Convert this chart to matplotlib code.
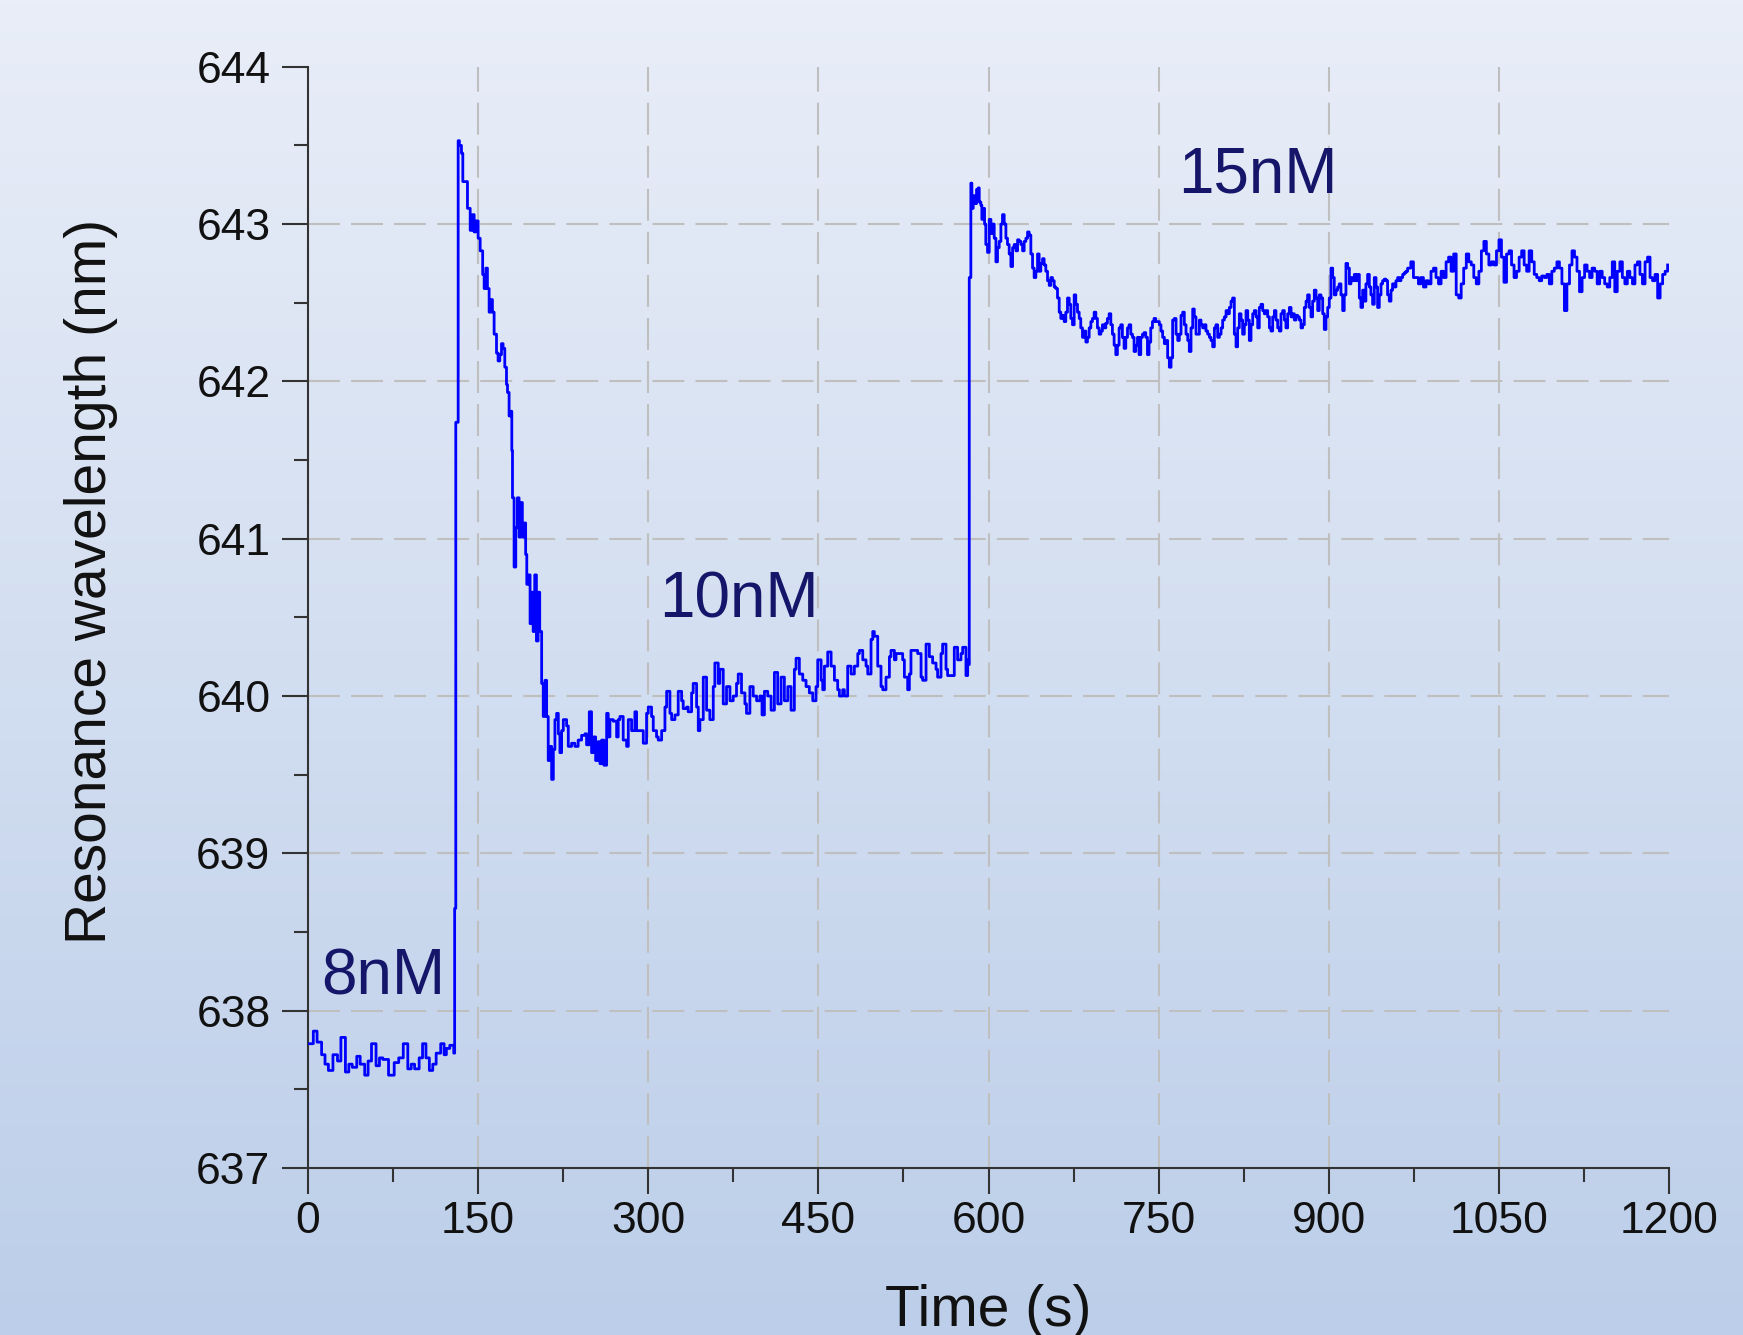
import numpy as np
import matplotlib
matplotlib.use("Agg")
import matplotlib.pyplot as plt
from matplotlib import font_manager

# ---------------- data ----------------
x_ticks = [0, 150, 300, 450, 600, 750, 900, 1050, 1200]
y_ticks = [637, 638, 639, 640, 641, 642, 643, 644]

# 8 nM baseline
time_8nM = [0, 4.7, 8, 12, 15, 18, 22, 26, 29, 33, 36, 39, 43, 46, 50, 53, 56, 60, 63, 66,
            71, 76, 80, 84, 88, 91, 94, 98, 101, 104, 107, 110, 113, 117, 120, 122, 125, 128.5]
wl_8nM = [637.79, 637.87, 637.80, 637.72, 637.66, 637.62, 637.72, 637.68, 637.83, 637.61,
          637.66, 637.64, 637.71, 637.66, 637.59, 637.68, 637.79, 637.65, 637.70, 637.69,
          637.59, 637.67, 637.70, 637.79, 637.63, 637.66, 637.63, 637.70, 637.79, 637.70,
          637.62, 637.66, 637.73, 637.79, 637.72, 637.76, 637.78, 637.73]

# injection of 10 nM: jump and decay
time_10nM_decay = [129.3, 130.3, 132.4, 133.5, 135.3, 136.5, 138, 140.6, 143, 145, 146.5, 148,
                   150, 151.8, 154, 155.3, 156.8, 158.2, 159.7, 161.2, 162.6, 164.1, 166.2,
                   167.6, 169.1, 170.6, 172, 173.5, 175, 175.9, 177.3, 178.8, 179.7, 180.3,
                   181.7, 183.2, 184.6, 186.1, 187.6, 189, 190.5, 191.9, 192.9, 194.4, 195.8,
                   197, 198.5, 199.9, 201.4, 202.9, 204.3, 206, 207.4, 208.9, 210.4, 211.8,
                   213.3, 214.8, 216.3, 217.7, 219.2, 220.7, 222.1, 223.6, 225.1, 228, 229.5,
                   232.4, 235.3, 238.2]
wl_10nM_decay = [638.65, 641.74, 643.53, 643.50, 643.45, 643.27, 643.27, 643.10, 642.96, 643.06,
                 642.95, 643.02, 642.91, 642.83, 642.68, 642.59, 642.72, 642.59, 642.44, 642.52,
                 642.44, 642.30, 642.18, 642.13, 642.17, 642.24, 642.21, 642.09, 641.98, 641.93,
                 641.78, 641.81, 641.56, 641.26, 640.82, 641.07, 641.26, 641.01, 641.23, 641.01,
                 641.10, 640.90, 640.71, 640.77, 640.46, 640.66, 640.41, 640.77, 640.35, 640.66,
                 640.41, 640.08, 639.87, 640.10, 639.87, 639.59, 639.68, 639.47, 639.66, 639.85,
                 639.89, 639.76, 639.64, 639.78, 639.85, 639.81, 639.68, 639.70, 639.68, 639.72]

# 10 nM association
time_10nM = [241.2, 244.2, 245.6, 248, 250, 251.5, 253.6, 255.9, 257.4, 258.9, 260.9, 263.3,
             264.7, 266.2, 269.1, 272.1, 273.5, 275, 277.9, 280.9, 282.4, 285.3, 288.2, 289.7,
             292.6, 295.6, 298.5, 300, 302.9, 304.4, 307.3, 308.8, 311.8, 314.7, 316.2, 319.1,
             320.6, 323.5, 326.4, 329.4, 330.8, 333.8, 335.2, 338.2, 339.6, 342.6, 344.1, 345.5,
             348.5, 351.4, 354.3, 357.3, 358.7, 361.7, 363.1, 366.1, 369, 372, 374.9, 377.8,
             379.3, 382.2, 385.2, 386.6, 389.6, 392.5, 395.5, 398.4, 400.3, 402.4, 405.3, 408.3,
             411.2, 414.1, 417.1, 420, 423, 425.9, 428.8, 430.3, 433.2, 436.2, 439.1, 442, 445,
             447.9, 449.4, 452.4, 453.8, 455.3, 458.2, 461.2, 464.1, 467, 468.5, 471.4, 472.9,
             475.8, 478.8, 481.7, 484.7, 486.1, 489.1, 492, 493.5, 496.4, 497.9, 499.3, 502.3,
             505.2, 506.7, 509.6, 512.6, 514, 517, 518.4, 521.4, 524.3, 525.8, 528.7, 530.2,
             531.6, 534.6, 537.5, 540.5, 541.9, 544.9, 547.8, 550.7, 553.7, 555.1, 558.1, 559.5,
             562.5, 563.9, 566.9, 569.8, 572.7, 575.7, 577.2, 580.1, 581.6, 582.5]
wl_10nM = [639.75, 639.76, 639.69, 639.90, 639.64, 639.74, 639.59, 639.71, 639.57, 639.72,
           639.56, 639.89, 639.74, 639.85, 639.84, 639.74, 639.85, 639.87, 639.72, 639.68,
           639.85, 639.78, 639.90, 639.78, 639.78, 639.70, 639.89, 639.93, 639.87, 639.78,
           639.74, 639.72, 639.78, 639.93, 640.03, 639.89, 639.85, 639.88, 640.03, 639.97,
           639.92, 639.93, 639.90, 640.02, 640.08, 639.93, 639.78, 639.85, 640.12, 639.91,
           639.85, 640.06, 640.21, 640.08, 640.17, 639.95, 640.06, 639.97, 640.00, 640.08,
           640.14, 640.02, 639.95, 639.89, 640.06, 640.00, 639.97, 640.00, 639.88, 640.03,
           640.00, 639.91, 640.15, 639.95, 640.12, 639.97, 640.06, 639.91, 640.17, 640.24,
           640.14, 640.10, 640.06, 640.02, 639.97, 640.06, 640.23, 640.10, 640.04, 640.19,
           640.28, 640.19, 640.10, 640.04, 640.00, 640.04, 640.00, 640.19, 640.14, 640.19,
           640.27, 640.29, 640.23, 640.19, 640.14, 640.36, 640.41, 640.38, 640.19, 640.06,
           640.04, 640.12, 640.25, 640.29, 640.23, 640.27, 640.27, 640.23, 640.12, 640.04,
           640.14, 640.29, 640.29, 640.27, 640.12, 640.10, 640.33, 640.25, 640.21, 640.17,
           640.12, 640.27, 640.33, 640.17, 640.13, 640.13, 640.31, 640.23, 640.27, 640.31,
           640.13, 640.23, 640.20]

# injection of 15 nM: jump and decay
time_15nM_decay = [583, 584.4, 585.3, 586.5, 588, 589.4, 590.9, 591.8, 593.2, 594.1, 595.3,
                   596.5, 597.6, 599.1, 600.6, 602.1, 603.5, 605, 606.5, 607.9, 609.4, 610.9,
                   612.3, 613.8, 615.3, 616.7, 618.2, 619.7, 621.2, 622.6, 624.1, 625.6, 627,
                   628.5, 630, 631.4, 632.9, 634.4, 635.8, 637.3, 638.8, 640.2, 641.7, 643.2,
                   644.6, 646.1, 647.6, 649, 650.5, 652, 653.5, 654.9, 656.4, 657.9, 659.3,
                   660.8, 662.3, 663.7, 665.2, 666.7, 668.1, 669.6, 671.1, 672.5, 674, 675.5,
                   676.9, 678.4, 679.9, 681.3, 682.8, 684.3, 685.8, 687.2, 688.7, 690.2, 691.6,
                   693.1, 694.6, 696, 697.5, 699, 700.4, 701.9, 703.4, 704.8, 706.3, 707.8,
                   709.2, 710.7, 712.2, 713.6, 715.1, 716.6, 718, 719.5, 721, 722.5, 723.9,
                   725.4, 726.9, 728.3, 729.8, 731.3, 732.7, 734.2, 735.7, 737.1, 738.6, 740.1,
                   741.5, 743, 744.5, 745.9, 747.4]
wl_15nM_decay = [642.66, 643.26, 643.10, 643.18, 643.13, 643.22, 643.23, 643.14, 643.12, 643.03,
                 643.10, 643.00, 642.87, 642.82, 643.03, 642.94, 643.00, 642.91, 642.76, 642.85,
                 642.89, 643.00, 643.06, 643.00, 642.91, 642.87, 642.81, 642.73, 642.85, 642.87,
                 642.83, 642.90, 642.89, 642.87, 642.83, 642.89, 642.91, 642.95, 642.93, 642.81,
                 642.72, 642.66, 642.70, 642.81, 642.70, 642.75, 642.78, 642.74, 642.70, 642.64,
                 642.61, 642.66, 642.64, 642.60, 642.59, 642.53, 642.44, 642.40, 642.42, 642.38,
                 642.44, 642.53, 642.49, 642.40, 642.36, 642.55, 642.49, 642.44, 642.40, 642.34,
                 642.28, 642.32, 642.25, 642.28, 642.34, 642.38, 642.40, 642.44, 642.40, 642.34,
                 642.30, 642.32, 642.36, 642.34, 642.37, 642.40, 642.43, 642.36, 642.30, 642.23,
                 642.17, 642.23, 642.34, 642.36, 642.28, 642.21, 642.28, 642.34, 642.36, 642.30,
                 642.28, 642.19, 642.23, 642.28, 642.17, 642.28, 642.30, 642.31, 642.28, 642.17,
                 642.25, 642.34, 642.38, 642.40, 642.38]

# 15 nM association
time_15nM = [750.6, 752, 753.5, 755, 756.5, 757.9, 759.4, 760.9, 762.3, 763.8, 765.3, 766.8,
             768.2, 769.7, 771.2, 772.6, 774.1, 775.6, 777, 778.5, 780, 781.4, 782.9, 784.4,
             785.9, 787.3, 788.8, 790.3, 791.7, 793.2, 794.7, 796.1, 797.6, 799.1, 800.5, 802,
             803.5, 805, 806.4, 807.9, 809.4, 810.8, 812.3, 813.8, 815.2, 816.7, 818.2, 819.6,
             821.1, 822.6, 824, 825.5, 827, 828.5, 829.9, 831.4, 832.9, 834.3, 835.8, 837.3,
             838.7, 840.2, 841.7, 843.1, 844.6, 846.1, 847.6, 849, 850.5, 852, 853.4, 854.9,
             856.4, 857.8, 859.3, 860.8, 862.2, 863.7, 865.2, 866.7, 868.1, 869.6, 871.1, 872.5,
             874, 875.5, 876.9, 878.4, 879.9, 881.3, 882.8, 884.3, 885.7, 887.2, 888.7, 890.2,
             891.6, 893.1, 894.6, 896, 897.5, 899, 900.4, 901.9, 903.4, 904.8, 906.3, 907.8,
             909.2, 910.7, 912.2, 913.6, 915.1, 916.6, 918.1, 919.5, 921, 922.5, 923.9, 925.4,
             926.9, 928.3, 929.8, 931.3, 932.7, 934.2, 935.7, 937.1, 938.6, 940.1, 941.6, 943,
             944.5, 946, 947.4, 948.9, 950.4, 951.8, 953.3, 954.8, 956.2, 957.7, 959.2, 960.7,
             962.1, 963.6, 965.1, 966.5, 968, 969.5, 972.3, 974.6, 976.8, 979, 981.2, 983.4,
             985.7, 987.9, 990.1, 992.3, 994.5, 996.7, 999, 1001.2, 1003.4, 1005.6, 1007.8,
             1010.1, 1012.3, 1014.5, 1016.7, 1018.9, 1021.2, 1023.4, 1025.6, 1027.8, 1030,
             1032.3, 1034.5, 1036.7, 1038.9, 1041.1, 1043.4, 1045.6, 1047.8, 1050, 1052.2,
             1054.4, 1056.7, 1058.9, 1061.1, 1063.3, 1065.5, 1067.8, 1070, 1072.2, 1074.4,
             1076.6, 1078.9, 1081.1, 1083.3, 1085.5, 1087.7, 1090, 1092.2, 1094.4, 1096.6,
             1098.8, 1101.1, 1103.3, 1105.5, 1107.7, 1109.9, 1112.2, 1114.4, 1116.6, 1118.8,
             1121, 1123.3, 1125.5, 1127.7, 1129.9, 1132.1, 1134.4, 1136.6, 1138.8, 1141,
             1143.2, 1145.5, 1147.7, 1149.9, 1152.1, 1154.3, 1156.6, 1158.8, 1161, 1163.2,
             1165.4, 1167.7, 1169.9, 1172.1, 1174.3, 1176.5, 1178.8, 1181, 1183.2, 1185.4,
             1187.6, 1189.9, 1192.1, 1194.3, 1196.5, 1198.7]
wl_15nM = [642.36, 642.32, 642.28, 642.24, 642.26, 642.15, 642.09, 642.15, 642.39, 642.40,
           642.30, 642.26, 642.30, 642.42, 642.44, 642.36, 642.30, 642.26, 642.19, 642.34,
           642.46, 642.41, 642.30, 642.30, 642.39, 642.36, 642.34, 642.36, 642.32, 642.30,
           642.28, 642.26, 642.22, 642.34, 642.36, 642.28, 642.30, 642.34, 642.39, 642.41,
           642.45, 642.43, 642.47, 642.51, 642.53, 642.30, 642.22, 642.34, 642.43, 642.39,
           642.30, 642.36, 642.45, 642.39, 642.26, 642.36, 642.43, 642.45, 642.41, 642.34,
           642.47, 642.49, 642.45, 642.43, 642.45, 642.41, 642.34, 642.32, 642.41, 642.45,
           642.39, 642.34, 642.32, 642.43, 642.45, 642.39, 642.34, 642.43, 642.47, 642.41,
           642.43, 642.39, 642.42, 642.41, 642.39, 642.34, 642.36, 642.47, 642.51, 642.55,
           642.47, 642.41, 642.51, 642.58, 642.53, 642.45, 642.55, 642.53, 642.43, 642.33,
           642.41, 642.47, 642.53, 642.72, 642.66, 642.55, 642.58, 642.60, 642.62, 642.55,
           642.45, 642.55, 642.75, 642.72, 642.62, 642.66, 642.64, 642.68, 642.64, 642.68,
           642.53, 642.47, 642.58, 642.51, 642.62, 642.68, 642.60, 642.55, 642.49, 642.66,
           642.60, 642.47, 642.55, 642.62, 642.64, 642.65, 642.64, 642.55, 642.51, 642.58,
           642.62, 642.60, 642.64, 642.66, 642.64, 642.66, 642.68, 642.69, 642.70, 642.72,
           642.76, 642.66, 642.66, 642.62, 642.66, 642.60, 642.64, 642.62, 642.70, 642.72,
           642.66, 642.62, 642.70, 642.66, 642.76, 642.79, 642.70, 642.81, 642.55, 642.53,
           642.62, 642.72, 642.81, 642.76, 642.74, 642.66, 642.62, 642.70, 642.83, 642.89,
           642.81, 642.74, 642.76, 642.74, 642.83, 642.90, 642.79, 642.63, 642.81, 642.83,
           642.74, 642.66, 642.70, 642.79, 642.83, 642.74, 642.70, 642.83, 642.76, 642.68,
           642.66, 642.64, 642.67, 642.66, 642.68, 642.62, 642.70, 642.72, 642.76, 642.72,
           642.62, 642.45, 642.62, 642.74, 642.83, 642.79, 642.70, 642.57, 642.66, 642.74,
           642.70, 642.66, 642.72, 642.70, 642.62, 642.70, 642.66, 642.62, 642.60, 642.66,
           642.76, 642.57, 642.70, 642.76, 642.66, 642.62, 642.70, 642.66, 642.62, 642.74,
           642.76, 642.68, 642.62, 642.76, 642.79, 642.66, 642.64, 642.68, 642.53, 642.62,
           642.68, 642.70, 642.74]

labels = ["8nM", "10nM", "15nM"]
label_x = [11.5, 310, 767]
label_y = [638.10, 640.50, 643.20]

# ---------------- fonts ----------------
available = {f.name for f in font_manager.fontManager.ttflist}
if "Liberation Sans Narrow" in available:
    tick_font = ["Liberation Sans Narrow", "DejaVu Sans"]
    tick_size = 39
else:
    tick_font = ["Liberation Sans", "DejaVu Sans"]
    tick_size = 32
main_font = ["Liberation Sans", "DejaVu Sans"]
plt.rcParams["font.family"] = main_font
plt.rcParams["lines.scale_dashes"] = False

# ---------------- figure ----------------
W, H, DPI = 1743, 1335, 100
fig = plt.figure(figsize=(W / DPI, H / DPI), dpi=DPI)

# background gradient
bg = fig.add_axes([0, 0, 1, 1], zorder=-10)
top = np.array([233, 238, 248]) / 255.0
bot = np.array([188, 206, 233]) / 255.0
f = np.linspace(0, 1, 256)[:, None]
grad = (top[None, :] * (1 - f) + bot[None, :] * f)[:, None, :]
bg.imshow(grad, aspect="auto", extent=[0, 1, 0, 1], origin="upper")
bg.set_axis_off()

ax = fig.add_axes([0.1767, 0.1251, 0.9576 - 0.1767, 0.950 - 0.1251])
ax.set_facecolor("none")

time = np.concatenate([time_8nM, time_10nM_decay, time_10nM, time_15nM_decay, time_15nM])
wl = np.concatenate([wl_8nM, wl_10nM_decay, wl_10nM, wl_15nM_decay, wl_15nM])

# grid (dashed) at inner major ticks
grid_kw = dict(color="#bfbfbf", lw=1.5, dashes=(23, 8), zorder=0)
for xv in x_ticks[1:-1]:
    ax.axvline(xv, **grid_kw)
for yv in y_ticks[1:-1]:
    ax.axhline(yv, **grid_kw)

ax.plot(time, wl, color="#0000ff", lw=2.0, drawstyle="steps-post", zorder=3)

for s, xl, yl in zip(labels, label_x, label_y):
    ax.text(xl, yl, s, fontsize=46, color="#15156a", va="baseline", ha="left",
            family=main_font, zorder=4)

ax.set_xlim(0, 1200)
ax.set_ylim(637, 644)
ax.set_xticks(x_ticks)
ax.set_yticks(y_ticks)
ax.set_xticks([v + 75 for v in x_ticks[:-1]], minor=True)
ax.set_yticks([v + 0.5 for v in y_ticks[:-1]], minor=True)

for side in ["top", "right"]:
    ax.spines[side].set_visible(False)
for side in ["left", "bottom"]:
    ax.spines[side].set_color("#333333")
    ax.spines[side].set_linewidth(1.5)

ax.tick_params(which="major", direction="out", length=19, width=1.5, color="#333333",
               labelsize=tick_size, pad=5)
ax.tick_params(which="minor", direction="out", length=10, width=1.5, color="#333333")
ax.tick_params(axis="y", which="major", pad=8)
for lab in ax.get_xticklabels() + ax.get_yticklabels():
    lab.set_family(tick_font)
    lab.set_color("#111111")

ax.set_xlabel("Time (s)", fontsize=41, color="#111111")
ax.xaxis.set_label_coords(0.5, -0.105)
ax.set_ylabel("Resonance wavelength (nm)", fontsize=41, color="#111111", va="center")
ax.yaxis.set_label_coords(-0.1594, 0.533)

fig.savefig("out.png", dpi=DPI)
